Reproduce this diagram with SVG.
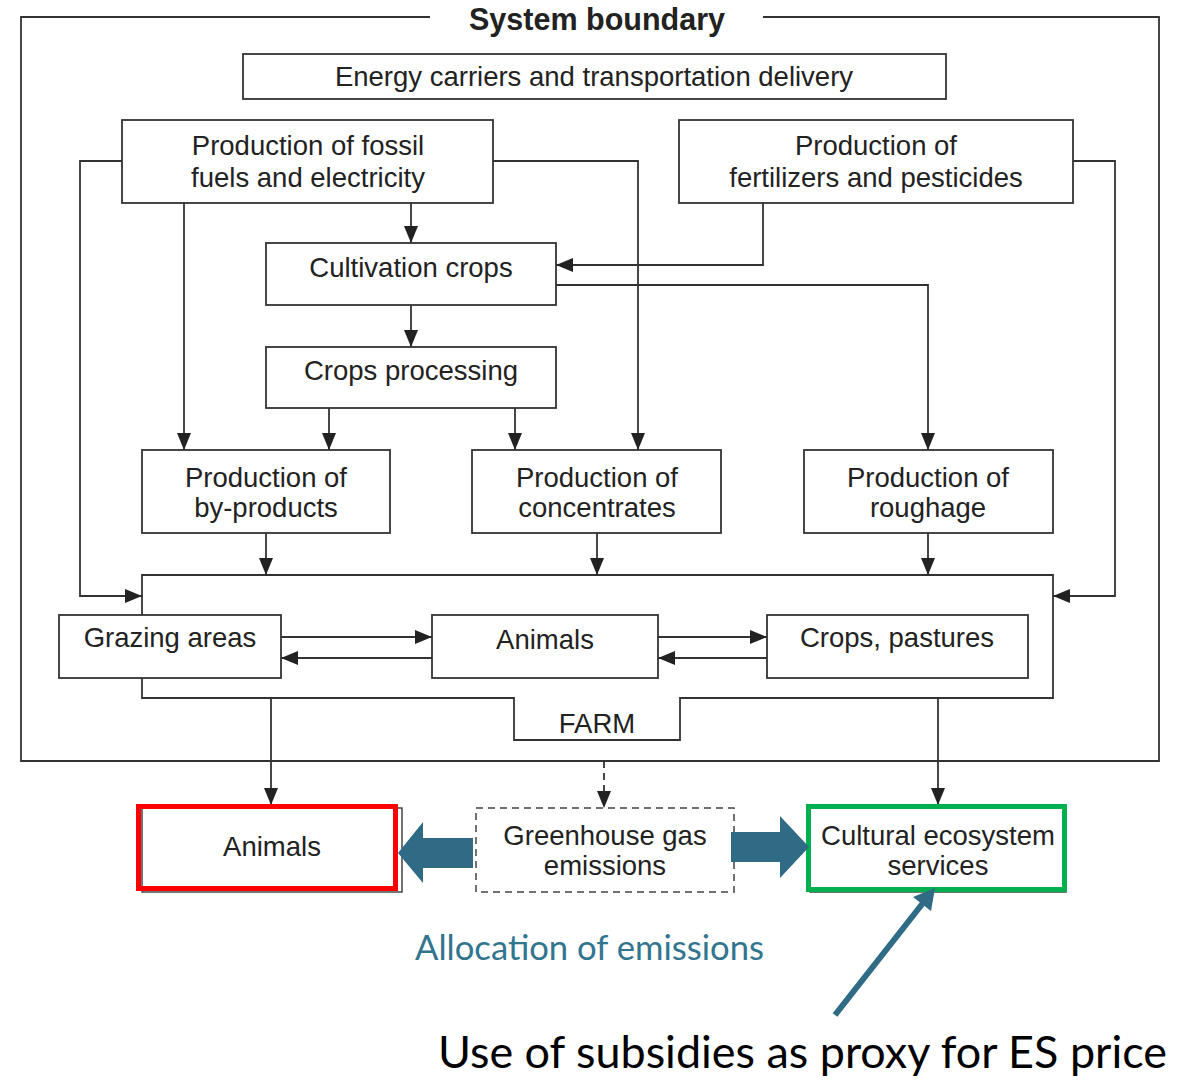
<svg xmlns="http://www.w3.org/2000/svg" width="1183" height="1081" viewBox="0 0 1183 1081">
<defs>
<marker id="ah" markerUnits="userSpaceOnUse" markerWidth="17" markerHeight="14" refX="17" refY="7" orient="auto">
<path d="M0,0 L17,7 L0,14 z" fill="#222"/>
</marker>
<style>
.box{fill:#fff;stroke:#333;stroke-width:1.8}
.ln{fill:none;stroke:#333;stroke-width:1.8}
.ar{fill:none;stroke:#333;stroke-width:1.8;marker-end:url(#ah)}
.t{font-family:"Liberation Sans",Arial,sans-serif;font-size:27.5px;fill:#222;text-anchor:middle}
.blue{fill:#2F6B85}
</style>
</defs>
<rect width="1183" height="1081" fill="#fff"/>

<g id="system-boundary">
<path class="ln" d="M430,17 L21,17 L21,761 L1159,761 L1159,17 L763,17"/>
<text x="597" y="30" class="t" style="font-weight:bold;font-size:30.5px">System boundary</text>
</g>

<g id="farm">
<path class="ln" d="M142,575 L1053,575 L1053,698 L680,698 L680,740 L514,740 L514,698 L142,698 Z"/>
<text x="597" y="733" class="t">FARM</text>
</g>

<g id="connectors">
<path class="ar" d="M122,161 L80,161 L80,596 L142,596"/>
<path class="ar" d="M493,161 L638,161 L638,450"/>
<path class="ar" d="M411,203 L411,243"/>
<path class="ar" d="M184,203 L184,450"/>
<path class="ar" d="M763,203 L763,265 L556,265"/>
<path class="ar" d="M1073,161 L1115,161 L1115,596 L1053,596"/>
<path class="ar" d="M556,285 L928,285 L928,450"/>
<path class="ar" d="M411,305 L411,347"/>
<path class="ar" d="M329,408 L329,450"/>
<path class="ar" d="M515,408 L515,450"/>
<path class="ar" d="M266,533 L266,575"/>
<path class="ar" d="M597,533 L597,575"/>
<path class="ar" d="M928,533 L928,575"/>
<path class="ar" d="M281,637 L432,637"/>
<path class="ar" d="M432,658 L281,658"/>
<path class="ar" d="M658,637 L767,637"/>
<path class="ar" d="M767,658 L658,658"/>
<path class="ar" d="M271,698 L271,805"/>
<path class="ar" d="M938,698 L938,805"/>
<path class="ar" d="M604,761 L604,808" style="stroke-dasharray:7,5"/>
</g>

<g id="energy">
<rect class="box" x="243" y="54" width="703" height="45"/>
<text x="594" y="86" class="t">Energy carriers and transportation delivery</text>
</g>
<g id="fossil">
<rect class="box" x="122" y="120" width="371" height="83"/>
<text x="308" y="155" class="t">Production of fossil</text>
<text x="308" y="187" class="t">fuels and electricity</text>
</g>
<g id="fertilizers">
<rect class="box" x="679" y="120" width="394" height="83"/>
<text x="876" y="155" class="t">Production of</text>
<text x="876" y="187" class="t">fertilizers and pesticides</text>
</g>
<g id="cultivation">
<rect class="box" x="266" y="243" width="290" height="62"/>
<text x="411" y="277" class="t">Cultivation crops</text>
</g>
<g id="processing">
<rect class="box" x="266" y="347" width="290" height="61"/>
<text x="411" y="380" class="t">Crops processing</text>
</g>
<g id="byproducts">
<rect class="box" x="142" y="450" width="248" height="83"/>
<text x="266" y="487" class="t">Production of</text>
<text x="266" y="517" class="t">by-products</text>
</g>
<g id="concentrates">
<rect class="box" x="472" y="450" width="249" height="83"/>
<text x="597" y="487" class="t">Production of</text>
<text x="597" y="517" class="t">concentrates</text>
</g>
<g id="roughage">
<rect class="box" x="804" y="450" width="249" height="83"/>
<text x="928" y="487" class="t">Production of</text>
<text x="928" y="517" class="t">roughage</text>
</g>
<g id="grazing">
<rect class="box" x="59" y="615" width="222" height="63"/>
<text x="170" y="647" class="t">Grazing areas</text>
</g>
<g id="animals-farm">
<rect class="box" x="432" y="615" width="226" height="63"/>
<text x="545" y="649" class="t">Animals</text>
</g>
<g id="crops-pastures">
<rect class="box" x="767" y="615" width="261" height="63"/>
<text x="897" y="647" class="t">Crops, pastures</text>
</g>

<g id="animals-out">
<rect x="142" y="808" width="260" height="84" fill="#fff" stroke="#444" stroke-width="1.5"/>
<rect x="138.5" y="806.5" width="257" height="82" fill="none" stroke="#FF0000" stroke-width="5"/>
<text x="272" y="856" class="t">Animals</text>
</g>
<g id="ghg">
<rect x="476" y="808" width="258" height="84" fill="#fff" stroke="#444" stroke-width="1.5" stroke-dasharray="7,5"/>
<text x="605" y="845" class="t">Greenhouse gas</text>
<text x="605" y="875" class="t">emissions</text>
</g>
<g id="cultural">
<rect x="810" y="808" width="256" height="84" fill="#fff" stroke="#444" stroke-width="1.5"/>
<rect x="808.5" y="806.5" width="256" height="83" fill="none" stroke="#00B050" stroke-width="5"/>
<text x="938" y="845" class="t">Cultural ecosystem</text>
<text x="938" y="875" class="t">services</text>
</g>

<g id="allocation-arrows">
<polygon class="blue" points="473,838 423,838 423,822 398,853 423,883 423,868 473,868"/>
<polygon class="blue" points="731,832 780,832 780,816 809,847 780,878 780,862 731,862"/>
<line x1="835" y1="1015" x2="923" y2="903" stroke="#2F6B85" stroke-width="6"/>
<polygon class="blue" points="935,888 931,911 913,897"/>
</g>

<text x="415" y="960" font-family="Lato,'Open Sans',sans-serif" font-size="34" fill="#31758F" textLength="349" lengthAdjust="spacingAndGlyphs">Allocation of emissions</text>
<text x="438" y="1068" font-family="Lato,'Open Sans',sans-serif" font-size="44" fill="#000" textLength="729" lengthAdjust="spacingAndGlyphs">Use of subsidies as proxy for ES price</text>
</svg>
